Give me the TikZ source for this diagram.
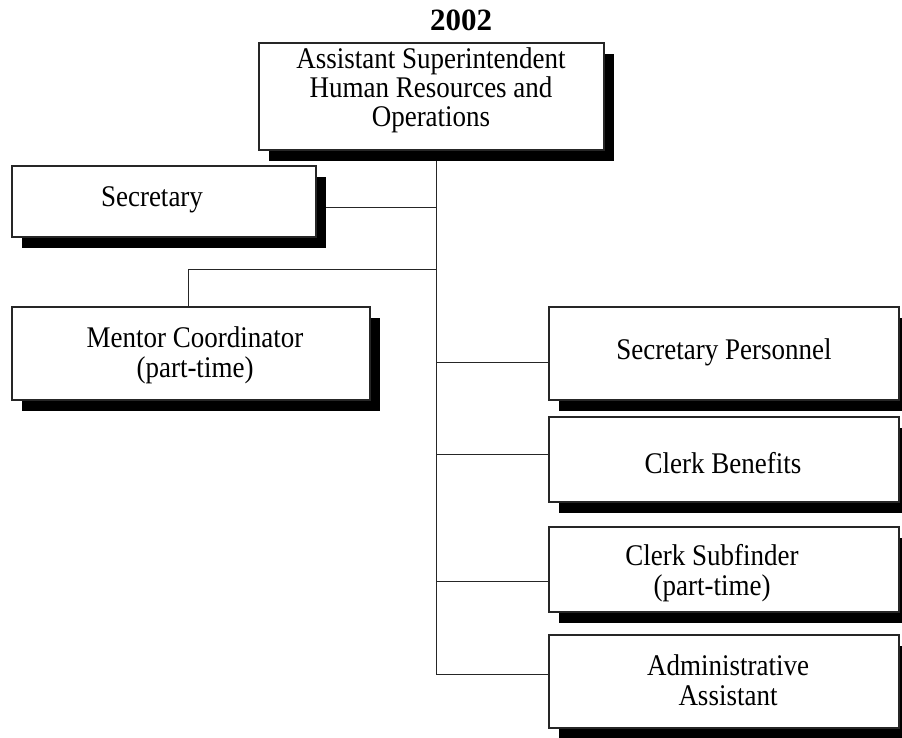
\documentclass[tikz,border=0pt]{standalone}
\usepackage{fontspec}
\setmainfont{Liberation Serif}
\newfontfamily\boxfont{Liberation Serif}[FakeStretch=0.9]
\begin{document}
\begin{tikzpicture}[x=1pt,y=-1pt,
  unitbox/.style={draw=black!85, line width=1.3pt, fill=white, inner sep=0pt},
  shadowbox/.style={fill=black, draw=none},
  boxtext/.style={inner sep=0pt, align=center, anchor=base,
    font=\boxfont\fontsize{30}{30}\selectfont},
  link/.style={draw=black!85, line width=1pt}]
\useasboundingbox (0,0) rectangle (902,737);

% title
\node[anchor=base, inner sep=0pt, font=\bfseries\fontsize{31}{31}\selectfont] (title) at (461,30) {2002};

% trunk of the chart
\coordinate (trunkTop) at (436,150);
\coordinate (trunkBot) at (436,674);

% connector entry points
\coordinate (secIn) at (316,207);
\coordinate (menIn) at (188,307);
\coordinate (menBend) at (188,269);
\coordinate (spIn) at (549,362);
\coordinate (cbIn) at (549,454);
\coordinate (csIn) at (549,581);
\coordinate (aaIn) at (549,674);

\draw[link] (trunkTop) -- (trunkBot);
\draw[link] (secIn) -- (secIn -| trunkTop);
\draw[link] (menIn) -- (menBend) -- (menBend -| trunkTop);
\draw[link] (spIn) -- (spIn -| trunkTop);
\draw[link] (cbIn) -- (cbIn -| trunkTop);
\draw[link] (csIn) -- (csIn -| trunkTop);
\draw[link] (aaIn) -- (aaIn -| trunkTop);

% shadows (offset right and down)
\foreach \l/\t/\r/\b in {259/43/604/150, 12/166/316/237, 12/307/370/400,
    549/307/899/400, 549/417/899/502, 549/527/899/612, 549/635/899/728}
  \fill[shadowbox] (\l+10,\t+11) rectangle (\r+10,\b+11);

% boxes
\node[unitbox, minimum width=345pt, minimum height=107pt] (top) at (431.5,96.5) {};
\node[unitbox, minimum width=304pt, minimum height=71pt] (sec) at (164,201.5) {};
\node[unitbox, minimum width=358pt, minimum height=93pt] (men) at (191,353.5) {};
\node[unitbox, minimum width=350pt, minimum height=93pt] (sp) at (724,353.5) {};
\node[unitbox, minimum width=350pt, minimum height=85pt] (cb) at (724,459.5) {};
\node[unitbox, minimum width=350pt, minimum height=85pt] (cs) at (724,569.5) {};
\node[unitbox, minimum width=350pt, minimum height=93pt] (aa) at (724,681.5) {};

% labels (anchor base = baseline of the last line)
\node[boxtext, font=\boxfont\fontsize{30}{29}\selectfont] (topT) at (431,126)
  {Assistant Superintendent\\Human Resources and\\Operations};
\node[boxtext] (secT) at (152,206) {Secretary};
\node[boxtext] (menT) at (195,377) {Mentor Coordinator\\(part-time)};
\node[boxtext] (spT) at (724,359) {Secretary Personnel};
\node[boxtext] (cbT) at (723,473) {Clerk Benefits};
\node[boxtext] (csT) at (712,595) {Clerk Subfinder\\(part-time)};
\node[boxtext] (aaT) at (728,705) {Administrative\\Assistant};
\end{tikzpicture}
\end{document}
